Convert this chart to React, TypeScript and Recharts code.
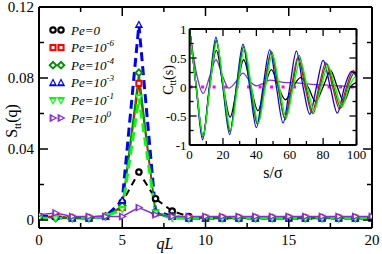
import React from 'react';
import { LineChart, Line, XAxis, YAxis, ReferenceArea } from 'recharts';

// ---------- main chart data ----------
const qL = [0, 1, 2, 3, 4, 5, 6, 7, 8, 9, 10, 11, 12, 13, 14, 15, 16, 17, 18, 19, 20];
const pe0 = [0.002, 0.002, 0.001, 0.001, 0.002, 0.010, 0.027, 0.012, 0.005, 0.002, 0.001, 0.001, 0.001, 0.001, 0.001, 0.001, 0.001, 0.001, 0.001, 0.001, 0.001];
const pe6 = [0.002, 0.002, 0.001, 0.001, 0.002, 0.007, 0.077, 0.004, 0.002, 0.001, 0.001, 0.001, 0.001, 0.001, 0.001, 0.001, 0.001, 0.001, 0.001, 0.001, 0.001];
const pe4 = [0.002, 0.001, 0.001, 0.001, 0.002, 0.008, 0.083, 0.004, 0.002, 0.001, 0.001, 0.001, 0.001, 0.001, 0.001, 0.001, 0.001, 0.001, 0.001, 0.001, 0.001];
const pe3 = [0.002, 0.002, 0.001, 0.001, 0.002, 0.011, 0.110, 0.005, 0.002, 0.001, 0.001, 0.001, 0.001, 0.001, 0.001, 0.001, 0.001, 0.001, 0.001, 0.001, 0.001];
const pe1 = [0.001, 0.001, 0.001, 0.001, 0.002, 0.006, 0.069, 0.004, 0.001, 0.001, 0.001, 0.001, 0.001, 0.001, 0.001, 0.001, 0.001, 0.001, 0.001, 0.001, 0.001];
const pe00 = [0.003, 0.004, 0.002, 0.002, 0.002, 0.002, 0.007, 0.003, 0.002, 0.002, 0.002, 0.002, 0.002, 0.002, 0.002, 0.002, 0.002, 0.002, 0.002, 0.002, 0.002];

const mainXTicks = [0, 2.5, 5, 7.5, 10, 12.5, 15, 17.5, 20];
const mainYTicks = [0, 0.02, 0.04, 0.06, 0.08, 0.1, 0.12];

// ---------- inset data ----------
const blueS = [0, 3.9, 7.8, 11.8, 15.8, 19.9, 24, 28, 32, 36, 40, 44, 48, 52, 56, 60, 64, 68, 72, 76, 80, 84.3, 88.5, 92.8, 97, 100];
const blueC = [1, 0, -0.91, 0, 0.86, 0, -0.82, 0, 0.74, 0, -0.7, 0, 0.64, 0, -0.62, 0, 0.62, 0, -0.47, 0, 0.46, 0, -0.45, 0, 0.27, 0.18];
const redS = [0, 4, 8, 12, 16, 20.1, 24.2, 28.3, 32.3, 36.5, 40.6, 44.7, 48.8, 53, 57, 61, 65, 69.2, 73.3, 77.5, 81.6, 85.7, 89.8, 94, 98, 100];
const redC = [1, 0, -0.86, 0, 0.79, 0, -0.76, 0, 0.68, 0, -0.64, 0, 0.6, 0, -0.54, 0, 0.52, 0, -0.44, 0, 0.42, 0, -0.38, 0, 0.28, 0.22];
const dgS = [0, 4, 8, 12, 16, 20.1, 24.2, 28.3, 32.4, 36.6, 40.8, 45, 49.1, 53.2, 57.3, 61.5, 65.6, 69.8, 74, 78.1, 82.3, 86.4, 90.6, 94.7, 98.8, 100];
const dgC = [1, 0, -0.87, 0, 0.81, 0, -0.77, 0, 0.7, 0, -0.64, 0, 0.61, 0, -0.56, 0, 0.54, 0, -0.46, 0, 0.4, 0, -0.36, 0, 0.25, 0.22];
const lgS = [0, 4, 8.1, 12.2, 16.3, 20.4, 24.6, 28.8, 33, 37.1, 41.2, 45.4, 49.6, 53.8, 57.9, 62.1, 66.3, 70.5, 74.6, 78.8, 83, 87.2, 91.3, 95.5, 99.6, 100];
const lgC = [1, 0, -0.84, 0, 0.77, 0, -0.74, 0, 0.66, 0, -0.62, 0, 0.56, 0, -0.52, 0, 0.45, 0, -0.4, 0, 0.36, 0, -0.34, 0, 0.18, 0.18];
const blackS = [0, 4, 8, 12, 16, 20.2, 24.3, 28.4, 32.4, 36.7, 41, 45, 49, 53.2, 57.5, 62, 66.5, 71, 75.5, 80, 84.5, 88.5, 92.5, 96.3, 100];
const blackC = [1, 0, -0.84, 0, 0.63, 0, -0.52, 0, 0.47, 0, -0.41, 0, 0.3, 0, -0.22, 0, 0.16, 0, -0.25, 0, 0.28, 0, -0.25, 0, 0.08];
const purpleS = [0, 4, 8.2, 12, 15.8, 19.6, 23.5, 28, 32, 36, 40, 44, 48, 56, 64, 72, 80, 90, 100];
const purpleC = [1, 0.25, -0.11, 0.18, 0.47, 0.2, -0.02, 0.1, 0.24, 0.1, 0.02, 0.06, 0.12, 0.08, 0.07, 0.05, 0.035, 0.02, 0.005];
const magentaS = [0, 100];
const magentaC = [0, 0];

const insetXTicks = [0, 10, 20, 30, 40, 50, 60, 70, 80, 90, 100];
const insetYTicks = [-1, -0.75, -0.5, -0.25, 0, 0.25, 0.5, 0.75, 1];

const legendLabels = [
  { base: 'Pe=0', exp: '' },
  { base: 'Pe=10', exp: '-6' },
  { base: 'Pe=10', exp: '-4' },
  { base: 'Pe=10', exp: '-3' },
  { base: 'Pe=10', exp: '-1' },
  { base: 'Pe=10', exp: '0' },
];

// ---------- helpers ----------
const SERIF = '"Liberation Serif", "DejaVu Serif", serif';
const BLACK = '#000000';
const RED = '#ff0000';
const DGREEN = '#008c00';
const BLUE = '#0000ff';
const LGREEN = '#00ff00';
const PURPLE = '#8a2be2';
const MAGENTA = '#ff00ff';

const mainData = qL.map((q, i) => ({ q, pe0: pe0[i], pe6: pe6[i], pe4: pe4[i], pe3: pe3[i], pe1: pe1[i], pe00: pe00[i] }));
const toPts = (s: number[], c: number[]) => s.map((v, i) => ({ s: v, c: c[i] }));

type Shape = 'circle' | 'square' | 'diamond' | 'up' | 'down' | 'right';

function shapeEl(shape: Shape, cx: number, cy: number, r: number, fill: string) {
  switch (shape) {
    case 'circle':
      return <circle cx={cx} cy={cy} r={r * 0.9} fill={fill} />;
    case 'square':
      return <rect x={cx - r * 0.85} y={cy - r * 0.85} width={r * 1.7} height={r * 1.7} fill={fill} />;
    case 'diamond':
      return <polygon points={`${cx},${cy - r * 1.1} ${cx + r * 1.1},${cy} ${cx},${cy + r * 1.1} ${cx - r * 1.1},${cy}`} fill={fill} />;
    case 'up':
      return <polygon points={`${cx},${cy - r * 1.1} ${cx + r},${cy + r * 0.8} ${cx - r},${cy + r * 0.8}`} fill={fill} />;
    case 'down':
      return <polygon points={`${cx},${cy + r * 1.1} ${cx + r},${cy - r * 0.8} ${cx - r},${cy - r * 0.8}`} fill={fill} />;
    default:
      return <polygon points={`${cx + r * 1.1},${cy} ${cx - r * 0.8},${cy - r} ${cx - r * 0.8},${cy + r}`} fill={fill} />;
  }
}

function Marker({ shape, cx, cy, color }: { shape: Shape; cx: number; cy: number; color: string }) {
  if (cx == null || cy == null || isNaN(cx) || isNaN(cy)) return null;
  return (
    <g>
      {shapeEl(shape, cx, cy, 4.2, color)}
      {shapeEl(shape, cx, cy, 1.8, '#ffffff')}
    </g>
  );
}

const dotFn = (shape: Shape, color: string) => (p: any) => (
  <Marker key={`m-${shape}-${p.index}`} shape={shape} cx={p.cx} cy={p.cy} color={color} />
);

const isMult = (v: number, step: number) => Math.abs(v / step - Math.round(v / step)) < 1e-6;

// main ticks
const MainBottomTick = (p: any) => {
  const v = p.payload.value;
  const major = isMult(v, 5);
  return (
    <g>
      <line x1={p.x} x2={p.x} y1={p.y} y2={p.y - (major ? 9 : 5)} stroke="#000" strokeWidth={1.5} />
      {major && (
        <text x={p.x} y={p.y + 17} textAnchor="middle" fontSize={15} fontFamily={SERIF} fill="#000">
          {v}
        </text>
      )}
    </g>
  );
};
const MainTopTick = (p: any) => {
  const major = isMult(p.payload.value, 5);
  return <line x1={p.x} x2={p.x} y1={p.y} y2={p.y + (major ? 9 : 5)} stroke="#000" strokeWidth={1.5} />;
};
const MainLeftTick = (p: any) => {
  const v = p.payload.value;
  const major = isMult(v, 0.04);
  return (
    <g>
      <line x1={p.x} x2={p.x + (major ? 9 : 5)} y1={p.y} y2={p.y} stroke="#000" strokeWidth={1.5} />
      {major && (
        <text x={p.x - 5} y={p.y + 5} textAnchor="end" fontSize={15} fontFamily={SERIF} fill="#000">
          {v === 0 ? '0' : v.toFixed(2)}
        </text>
      )}
    </g>
  );
};
const MainRightTick = (p: any) => {
  const major = isMult(p.payload.value, 0.04);
  return <line x1={p.x} x2={p.x - (major ? 9 : 5)} y1={p.y} y2={p.y} stroke="#000" strokeWidth={1.5} />;
};

// inset ticks
const InsetBottomTick = (p: any) => {
  const v = p.payload.value;
  const major = isMult(v, 20);
  return (
    <g>
      <line x1={p.x} x2={p.x} y1={p.y} y2={p.y - (major ? 7 : 4)} stroke="#000" strokeWidth={1.3} />
      {major && (
        <text x={p.x} y={p.y + 14} textAnchor="middle" fontSize={13} fontFamily={SERIF} fill="#000">
          {v}
        </text>
      )}
    </g>
  );
};
const InsetTopTick = (p: any) => {
  const major = isMult(p.payload.value, 20);
  return <line x1={p.x} x2={p.x} y1={p.y} y2={p.y + (major ? 7 : 4)} stroke="#000" strokeWidth={1.3} />;
};
const InsetLeftTick = (p: any) => {
  const v = p.payload.value;
  const major = isMult(v, 0.5);
  return (
    <g>
      <line x1={p.x} x2={p.x + (major ? 7 : 4)} y1={p.y} y2={p.y} stroke="#000" strokeWidth={1.3} />
      {major && (
        <text x={p.x - 3} y={p.y + 4.5} textAnchor="end" fontSize={13} fontFamily={SERIF} fill="#000">
          {String(v)}
        </text>
      )}
    </g>
  );
};
const InsetRightTick = (p: any) => {
  const major = isMult(p.payload.value, 0.5);
  return <line x1={p.x} x2={p.x - (major ? 7 : 4)} y1={p.y} y2={p.y} stroke="#000" strokeWidth={1.3} />;
};

const axisLineMain = { stroke: '#000', strokeWidth: 2 };
const axisLineInset = { stroke: '#000', strokeWidth: 2 };

const legendShapes: { shape: Shape; color: string }[] = [
  { shape: 'circle', color: BLACK },
  { shape: 'square', color: RED },
  { shape: 'diamond', color: DGREEN },
  { shape: 'up', color: BLUE },
  { shape: 'down', color: LGREEN },
  { shape: 'right', color: PURPLE },
];

export default function App() {
  return (
    <div style={{ position: 'absolute', left: 0, top: 0, width: 382, height: 254, background: '#fff', overflow: 'hidden' }}>
      <div style={{ position: 'absolute', left: 0, top: 0 }}>
        <LineChart width={382} height={254} data={mainData} margin={{ top: 6, right: 9, bottom: 0, left: 0 }}>
          <XAxis xAxisId="b" dataKey="q" type="number" domain={[0, 20]} allowDataOverflow ticks={mainXTicks} interval={0}
            height={26} tickSize={0} tickMargin={0} tickLine={false} axisLine={axisLineMain} tick={<MainBottomTick />} />
          <XAxis xAxisId="t" orientation="top" dataKey="q" type="number" domain={[0, 20]} allowDataOverflow ticks={mainXTicks} interval={0}
            height={1} tickSize={0} tickMargin={0} tickLine={false} axisLine={axisLineMain} tick={<MainTopTick />} />
          <YAxis yAxisId="l" type="number" domain={[-0.0045, 0.12]} allowDataOverflow ticks={mainYTicks} interval={0}
            width={39} tickSize={0} tickMargin={0} tickLine={false} axisLine={axisLineMain} tick={<MainLeftTick />} />
          <YAxis yAxisId="r" orientation="right" type="number" domain={[-0.0045, 0.12]} allowDataOverflow ticks={mainYTicks} interval={0}
            width={1} tickSize={0} tickMargin={0} tickLine={false} axisLine={axisLineMain} tick={<MainRightTick />} />
          <Line xAxisId="t" yAxisId="r" dataKey="pe0" stroke="none" dot={false} isAnimationActive={false} />
          <Line xAxisId="b" yAxisId="l" dataKey="pe0" type="linear" stroke={BLACK} strokeWidth={2} strokeDasharray="7 5" dot={dotFn('circle', BLACK)} isAnimationActive={false} />
          <Line xAxisId="b" yAxisId="l" dataKey="pe6" type="linear" stroke={RED} strokeWidth={1.5} dot={dotFn('square', RED)} isAnimationActive={false} />
          <Line xAxisId="b" yAxisId="l" dataKey="pe4" type="linear" stroke={DGREEN} strokeWidth={1.5} dot={dotFn('diamond', DGREEN)} isAnimationActive={false} />
          <Line xAxisId="b" yAxisId="l" dataKey="pe3" type="linear" stroke={BLUE} strokeWidth={3} strokeDasharray="9 5" dot={dotFn('up', BLUE)} isAnimationActive={false} />
          <Line xAxisId="b" yAxisId="l" dataKey="pe1" type="linear" stroke={LGREEN} strokeWidth={3} strokeDasharray="9 5" dot={dotFn('down', LGREEN)} isAnimationActive={false} />
          <Line xAxisId="b" yAxisId="l" dataKey="pe00" type="linear" stroke={PURPLE} strokeWidth={1.5} dot={dotFn('right', PURPLE)} isAnimationActive={false} />
        </LineChart>
      </div>

      <div style={{ position: 'absolute', left: 0, top: 0 }}>
        <LineChart width={382} height={254} margin={{ top: 28, right: 24.5, bottom: 108, left: 188.6 }}>
          <XAxis xAxisId="b" dataKey="s" type="number" domain={[0, 100]} allowDataOverflow ticks={insetXTicks} interval={0}
            height={1} tickSize={0} tickMargin={0} tickLine={false} axisLine={axisLineInset} tick={<InsetBottomTick />} />
          <XAxis xAxisId="t" orientation="top" dataKey="s" type="number" domain={[0, 100]} allowDataOverflow ticks={insetXTicks} interval={0}
            height={1} tickSize={0} tickMargin={0} tickLine={false} axisLine={axisLineInset} tick={<InsetTopTick />} />
          <YAxis yAxisId="l" dataKey="c" type="number" domain={[-1, 1]} allowDataOverflow ticks={insetYTicks} interval={0}
            width={1} tickSize={0} tickMargin={0} tickLine={false} axisLine={axisLineInset} tick={<InsetLeftTick />} />
          <YAxis yAxisId="r" orientation="right" dataKey="c" type="number" domain={[-1, 1]} allowDataOverflow ticks={insetYTicks} interval={0}
            width={1} tickSize={0} tickMargin={0} tickLine={false} axisLine={axisLineInset} tick={<InsetRightTick />} />
          <ReferenceArea xAxisId="b" yAxisId="l" x1={0} x2={100} y1={-1} y2={1} fill="#ffffff" fillOpacity={1} stroke="none" ifOverflow="visible" />
          <Line xAxisId="t" yAxisId="r" data={toPts(magentaS, magentaC)} dataKey="c" stroke="none" dot={false} isAnimationActive={false} />
          <Line xAxisId="b" yAxisId="l" data={toPts(magentaS, magentaC)} dataKey="c" type="linear" stroke={MAGENTA} strokeWidth={3} strokeDasharray="3 8.5" dot={false} isAnimationActive={false} />
          <Line xAxisId="b" yAxisId="l" data={toPts(purpleS, purpleC)} dataKey="c" type="monotone" stroke={PURPLE} strokeWidth={1.3} dot={false} isAnimationActive={false} />
          <Line xAxisId="b" yAxisId="l" data={toPts(blackS, blackC)} dataKey="c" type="monotone" stroke={BLACK} strokeWidth={1.3} dot={false} isAnimationActive={false} />
          <Line xAxisId="b" yAxisId="l" data={toPts(redS, redC)} dataKey="c" type="monotone" stroke={RED} strokeWidth={1.3} dot={false} isAnimationActive={false} />
          <Line xAxisId="b" yAxisId="l" data={toPts(blueS, blueC)} dataKey="c" type="monotone" stroke={BLUE} strokeWidth={1.3} dot={false} isAnimationActive={false} />
          <Line xAxisId="b" yAxisId="l" data={toPts(dgS, dgC)} dataKey="c" type="monotone" stroke={DGREEN} strokeWidth={1.3} dot={false} isAnimationActive={false} />
          <Line xAxisId="b" yAxisId="l" data={toPts(lgS, lgC)} dataKey="c" type="monotone" stroke={LGREEN} strokeWidth={1.3} dot={false} isAnimationActive={false} />
        </LineChart>
      </div>

      <svg width={382} height={254} style={{ position: 'absolute', left: 0, top: 0, pointerEvents: 'none' }}>
        <text transform="translate(17,121) rotate(-90)" textAnchor="middle" fontSize={16} fontFamily={SERIF} fill="#000">
          S<tspan fontSize={11} dy={4}>tt</tspan><tspan dy={-4}>(q)</tspan>
        </text>
        <text x={165} y={249} textAnchor="middle" fontSize={16} fontFamily={SERIF} fontStyle="italic" fill="#000">qL</text>
        <text transform="translate(173,80) rotate(-90)" textAnchor="middle" fontSize={14} fontFamily={SERIF} fill="#000">
          C<tspan fontSize={10} dy={3}>tt</tspan><tspan dy={-3}>(s)</tspan>
        </text>
        <text x={273} y={178} textAnchor="middle" fontSize={16} fontFamily={SERIF} fill="#000">s/σ</text>
        {legendShapes.map((l, i) => {
          const cy = 30 + i * 17.6;
          return (
            <g key={`lg-${i}`}>
              <Marker shape={l.shape} cx={53} cy={cy} color={l.color} />
              <Marker shape={l.shape} cx={61} cy={cy} color={l.color} />
              <text x={71} y={cy + 4.5} fontSize={13} fontFamily={SERIF} fontStyle="italic" fill="#000">
                {legendLabels[i].base}
                {legendLabels[i].exp && <tspan fontSize={9} dy={-6}>{legendLabels[i].exp}</tspan>}
              </text>
            </g>
          );
        })}
      </svg>
    </div>
  );
}
